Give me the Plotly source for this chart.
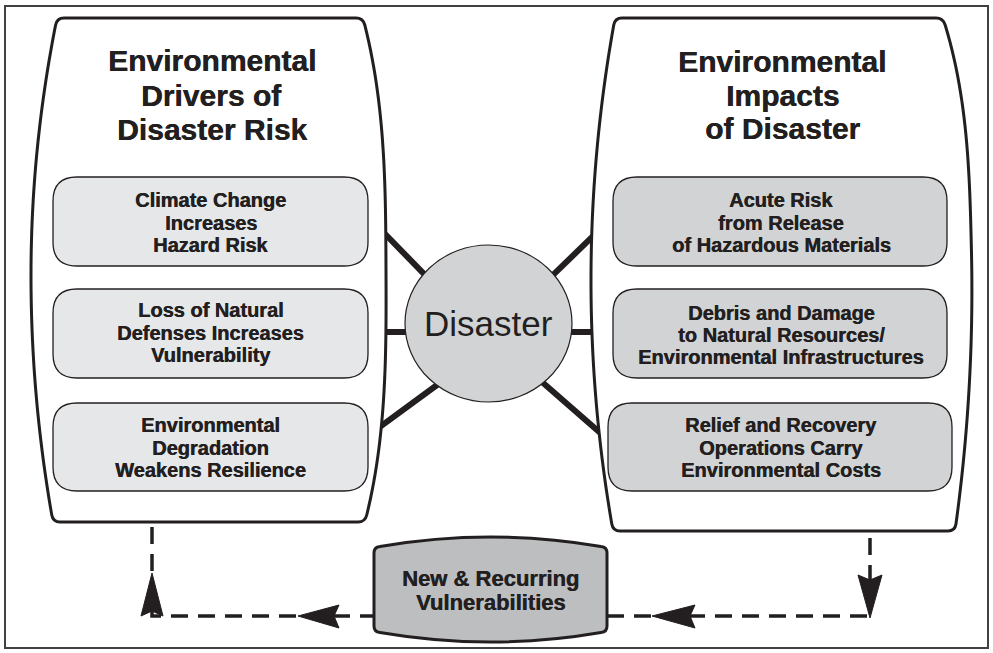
import plotly.graph_objects as go

# ---------------- text content ----------------
left_title = ["Environmental", "Drivers of", "Disaster Risk"]
right_title = ["Environmental", "Impacts", "of Disaster"]
left_boxes = [
    ["Climate Change", "Increases", "Hazard Risk"],
    ["Loss of Natural", "Defenses Increases", "Vulnerability"],
    ["Environmental", "Degradation", "Weakens Resilience"],
]
right_boxes = [
    ["Acute Risk", "from Release", "of Hazardous Materials"],
    ["Debris and Damage", "to Natural Resources/", "Environmental Infrastructures"],
    ["Relief and Recovery", "Operations Carry", "Environmental Costs"],
]
center_label = "Disaster"
bottom_label = ["New & Recurring", "Vulnerabilities"]

# ---------------- layout geometry (pixel space) ----------------
W, H = 993, 653
INK = "#231f20"
FONT = "Liberation Sans, Arial, Helvetica, sans-serif"

shapes = []
annotations = []


def edge_x(y, x_top, x_bot, top, bot, amp, vy, p1, p2):
    base = x_top + (x_bot - x_top) * (y - top) / (bot - top)
    if y < vy:
        t = (vy - y) / (vy - top)
        p = p1
    else:
        t = (y - vy) / (bot - vy)
        p = p2
    return base + amp * (1 - abs(t) ** p)


def barrel_path(top, bot, L, R, r=7, n=60):
    fl = lambda y: edge_x(y, L[0], L[1], top, bot, L[2], L[3], L[4], L[5])
    fr = lambda y: edge_x(y, R[0], R[1], top, bot, R[2], R[3], R[4], R[5])
    ys = [top + r + (bot - top - 2 * r) * i / (n - 1) for i in range(n)]
    xlt, xlb, xrt, xrb = fl(top), fl(bot), fr(top), fr(bot)
    d = f"M {xlt + r:.2f},{top} L {xrt - r:.2f},{top} "
    d += f"Q {xrt:.2f},{top} {fr(ys[0]):.2f},{ys[0]:.2f} "
    for y in ys[1:]:
        d += f"L {fr(y):.2f},{y:.2f} "
    d += f"Q {xrb:.2f},{bot} {xrb - r:.2f},{bot} "
    d += f"L {xlb + r:.2f},{bot} "
    d += f"Q {xlb:.2f},{bot} {fl(ys[-1]):.2f},{ys[-1]:.2f} "
    for y in reversed(ys[:-1]):
        d += f"L {fl(y):.2f},{y:.2f} "
    d += f"Q {xlt:.2f},{top} {xlt + r:.2f},{top} Z"
    return d


def rrect_path(x0, y0, x1, y1, r):
    return (f"M {x0 + r},{y0} L {x1 - r},{y0} Q {x1},{y0} {x1},{y0 + r} "
            f"L {x1},{y1 - r} Q {x1},{y1} {x1 - r},{y1} L {x0 + r},{y1} "
            f"Q {x0},{y1} {x0},{y1 - r} L {x0},{y0 + r} Q {x0},{y0} {x0 + r},{y0} Z")


# outer frame
shapes.append(dict(type="rect", x0=5, y0=6, x1=988, y1=648,
                   line=dict(color="#414042", width=2), fillcolor="rgba(0,0,0,0)"))

# connectors (thick black), drawn beneath panels and circle
connectors = [
    ((370, 218.5), (440, 290.4)),
    ((370, 332), (420, 332)),
    ((450, 375.5), (370, 434.2)),
    ((540, 287.7), (612, 217.6)),
    ((560, 332), (612, 332)),
    ((530, 371.5), (617, 447.5)),
]
for (a, b) in connectors:
    shapes.append(dict(type="line", x0=a[0], y0=a[1], x1=b[0], y1=b[1],
                       line=dict(color=INK, width=6)))

# panels
left_panel = barrel_path(18, 522, (57, 53, -24, 265, 2, 2), (363, 365, 22, 270, 3, 3))
right_panel = barrel_path(18, 531, (615, 613, -23, 275, 2, 2), (943, 955, 23, 250, 3, 2))
for p in (left_panel, right_panel):
    shapes.append(dict(type="path", path=p, fillcolor="white",
                       line=dict(color=INK, width=3)))

# inner boxes
left_box_y = [(177, 266), (289, 378), (403, 491)]
right_box_x = [(613, 947), (613, 947), (608, 952)]
for i, (y0, y1) in enumerate(left_box_y):
    shapes.append(dict(type="path", path=rrect_path(53, y0, 368, y1, 24),
                       fillcolor="#e6e7e8", line=dict(color=INK, width=1.3)))
    x0, x1 = right_box_x[i]
    shapes.append(dict(type="path", path=rrect_path(x0, y0, x1, y1, 24),
                       fillcolor="#d1d3d4", line=dict(color=INK, width=1.3)))

# disaster circle
shapes.append(dict(type="circle", x0=405, y0=245, x1=572, y1=402,
                   fillcolor="#d1d3d4", line=dict(color=INK, width=1.2)))

# dashed feedback lines
shapes.append(dict(type="path", path="M 152,527 L 152,616 L 376,616",
                   line=dict(color=INK, width=3.5, dash="17px,10px")))
shapes.append(dict(type="path", path="M 870,538 L 870,616 L 606,616",
                   line=dict(color=INK, width=3.5, dash="17px,10px")))

# bottom cylinder
cyl = ("M 374,553 Q 374,547 380,546.5 Q 490.5,527.5 601,546.5 Q 607,547 607,553 "
       "L 607,626 Q 607,632 601,632.5 Q 490.5,651.5 380,632.5 Q 374,632 374,626 Z")
shapes.append(dict(type="path", path=cyl, fillcolor="#bcbec0",
                   line=dict(color=INK, width=3)))

# arrowheads (slightly notched)
arrows = [
    "M 152,573 L 163,616 L 152,611 L 141,616 Z",      # up
    "M 298,616 L 339,605 L 334,616 L 339,628 Z",      # left (bottom-left)
    "M 652,616 L 695,605 L 690,616 L 695,628 Z",      # left (bottom-right)
    "M 870,618 L 882,575 L 870,580 L 858,575 Z",      # down
]
for a in arrows:
    shapes.append(dict(type="path", path=a, fillcolor=INK, line=dict(color=INK, width=1)))

SHADOW = "0.45px 0 0 #231f20"


def add_lines(lines, x, ys, size, bold=True):
    for t, y in zip(lines, ys):
        annotations.append(dict(
            x=x, y=y, xref="x", yref="y", showarrow=False,
            text=f"<b>{t}</b>" if bold else t,
            font=dict(family=FONT, size=size, color=INK,
                      shadow=SHADOW if bold else "none"),
            xanchor="center", yanchor="middle"))


add_lines(left_title, 211.5, [60, 95, 129], 30)
add_lines(right_title, 782, [61, 95, 128], 30)

left_line_y = [[200, 222.5, 245], [310, 333, 355], [425, 448, 470]]
right_line_y = [[200, 223, 245], [313, 335, 357], [425, 448, 470]]
for lines, ys in zip(left_boxes, left_line_y):
    add_lines(lines, 210.5, ys, 20)
for lines, ys in zip(right_boxes, right_line_y):
    add_lines(lines, 781, ys, 20)

add_lines([center_label], 488, [323], 35, bold=False)
add_lines(bottom_label, 490.5, [578, 602], 22)

fig = go.Figure()
fig.update_layout(
    width=W, height=H,
    margin=dict(l=0, r=0, t=0, b=0),
    paper_bgcolor="white", plot_bgcolor="white",
    xaxis=dict(range=[0, W], visible=False, fixedrange=True),
    yaxis=dict(range=[H, 0], visible=False, fixedrange=True),
    shapes=shapes, annotations=annotations, showlegend=False,
)
fig.write_html("out.html", config={"displayModeBar": False},
               post_script="document.body.style.margin='0';document.body.style.overflow='hidden';")
